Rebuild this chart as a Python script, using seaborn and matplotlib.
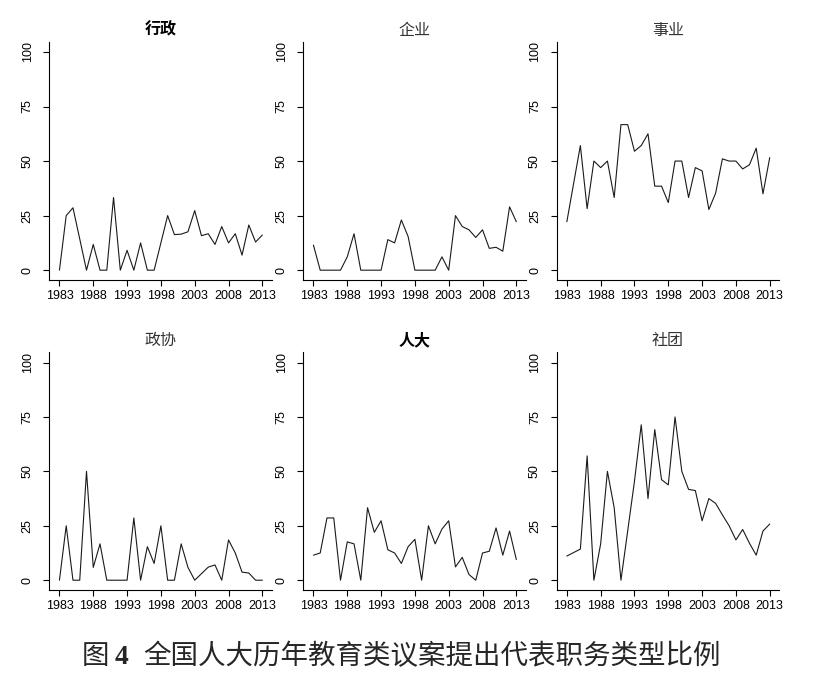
import numpy as np
import pandas as pd
import matplotlib
matplotlib.use("Agg")
import matplotlib.pyplot as plt
import seaborn as sns

years = list(range(1983, 2014))

xingzheng = [0, 25, 28.6, 14.3, 0, 11.8, 0, 0, 33.3, 0, 9.1, 0, 12.5, 0, 0, 12.5,
             25, 16.3, 16.5, 17.6, 27.3, 15.8, 16.7, 11.8, 20, 12.5, 16.7, 6.9, 20.7, 12.9, 16.1]
qiye = [11.5, 0, 0, 0, 0, 6.1, 16.7, 0, 0, 0, 0, 14, 12.5, 23, 15.4, 0,
        0, 0, 0, 6.1, 0, 25, 20, 18.5, 15, 18.5, 10, 10.5, 8.7, 29, 22.2]
shiye = [22.2, 39.7, 57.1, 28.2, 50, 47, 50, 33.3, 66.7, 66.7, 54.5, 57.1, 62.5, 38.5, 38.5, 31,
         50, 50, 33.3, 47, 45.5, 27.8, 35.3, 51, 50, 50, 46.4, 48.3, 55.9, 35, 51.6]
zhengxie = [0, 25, 0, 0, 50, 5.9, 16.7, 0, 0, 0, 0, 28.6, 0, 15.4, 7.7, 25,
            0, 0, 16.7, 5.9, 0, 3, 6, 7, 0, 18.5, 12.5, 3.7, 3.3, 0, 0]
renda = [11.5, 12.5, 28.6, 28.6, 0, 17.6, 16.7, 0, 33.3, 22, 27.3, 14, 12.5, 7.7, 15.4, 18.8,
         0, 25, 16.7, 23.5, 27.3, 6.1, 10.5, 2.6, 0, 12.5, 13.3, 24, 11.5, 22.6, 9.5]
shetuan = [11.1, 12.7, 14.3, 57.1, 0, 16.7, 50, 33.3, 0, 22.7, 45.5, 71.4, 37.5, 69.2, 46.2, 43.8,
           75, 50, 41.7, 41.2, 27.3, 37.5, 35.3, 30, 25, 18.5, 23.3, 17, 11.5, 22.6, 25.8]

titles = ["行政", "企业", "事业", "政协", "人大", "社团"]
series = [xingzheng, qiye, shiye, zhengxie, renda, shetuan]
bold_titles = {"行政", "人大"}
xticks = [1983, 1988, 1993, 1998, 2003, 2008, 2013]
yticks = [0, 25, 50, 75, 100]
caption_fig = "图"
caption_num = "4"
caption_rest = "全国人大历年教育类议案提出代表职务类型比例"

sns.set_theme(style="ticks")
plt.rcParams["font.family"] = ["Liberation Sans", "Noto Sans CJK SC", "DejaVu Sans"]

W, H = 839, 691
fig = plt.figure(figsize=(W / 100, H / 100), dpi=100)

lefts = [49.3, 303.3, 556.7]
rows = [(41.7, 280.0), (352.3, 590.0)]
width_px = 222.5

for i, (title, vals) in enumerate(zip(titles, series)):
    r, c = divmod(i, 3)
    top, bot = rows[r]
    ax = fig.add_axes([lefts[c] / W, (H - bot) / H, width_px / W, (bot - top) / H])
    df = pd.DataFrame({"year": years, "value": vals})
    sns.lineplot(data=df, x="year", y="value", ax=ax, color="#1a1a1a", linewidth=0.8)
    ax.set_xlim(1981.5, 2014.4)
    ax.set_ylim(-4.5, 104.7)
    ax.set_xticks(xticks)
    ax.set_yticks(yticks)
    ax.set_xlabel("")
    ax.set_ylabel("")
    ax.tick_params(axis="both", direction="out", length=4.3, width=0.8, colors="#000000",
                   labelsize=9)
    ax.tick_params(axis="y", pad=7)
    ax.tick_params(axis="x", pad=3)
    for lab in ax.get_yticklabels():
        lab.set_rotation(90)
        lab.set_va("center")
    for sp in ["left", "bottom"]:
        ax.spines[sp].set_linewidth(0.8)
        ax.spines[sp].set_color("#000000")
    sns.despine(ax=ax)
    ax.set_title(title, family=["Noto Sans CJK SC", "DejaVu Sans"], fontsize=11.5,
                 fontweight="bold" if title in bold_titles else "normal",
                 color="#000000" if title in bold_titles else "#333333", pad=5)

# caption
fig.canvas.draw()
renderer = fig.canvas.get_renderer()
fs = 19.8
y_cap = 1 - 657 / H
t1 = fig.text(0, y_cap, caption_fig, fontsize=fs, family=["Noto Sans CJK SC"], va="center", ha="left")
t2 = fig.text(0, y_cap, caption_num, fontsize=fs, family=["Liberation Serif"], fontweight="bold",
              va="center", ha="left")
t3 = fig.text(0, y_cap, caption_rest, fontsize=fs, family=["Noto Sans CJK SC"], va="center", ha="left")
w1 = t1.get_window_extent(renderer).width
w2 = t2.get_window_extent(renderer).width
w3 = t3.get_window_extent(renderer).width
gap1 = 6
gap2 = 14
total = w1 + gap1 + w2 + gap2 + w3
x0 = 401 - total / 2
t1.set_x(x0 / W)
t2.set_x((x0 + w1 + gap1) / W)
t3.set_x((x0 + w1 + gap1 + w2 + gap2) / W)

fig.savefig("out.png", dpi=100)
